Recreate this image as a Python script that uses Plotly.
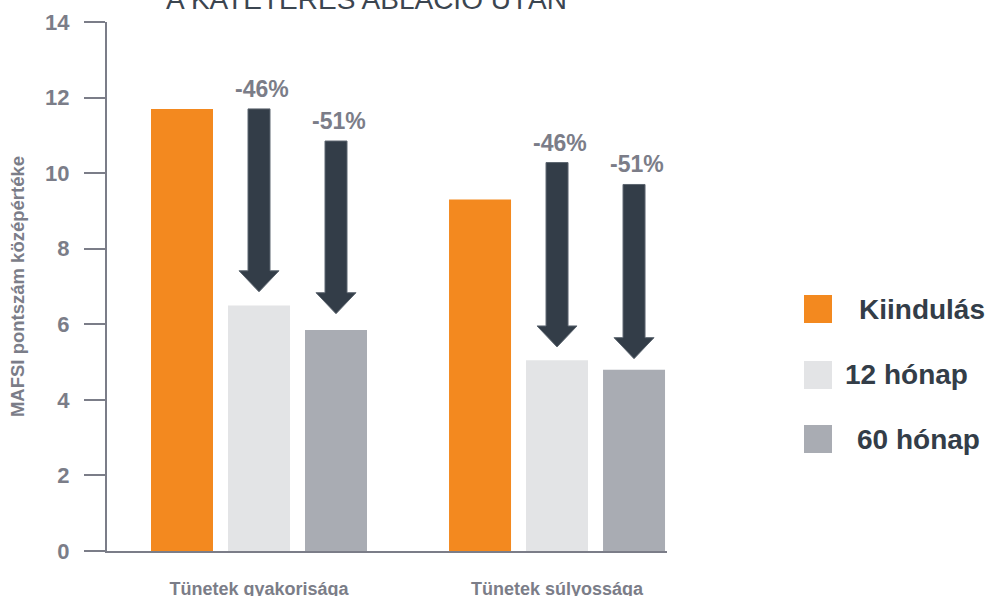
import plotly.graph_objects as go

# MAFSI scores by symptom dimension and follow-up time
categories = ["Tünetek gyakorisága", "Tünetek súlyossága"]
series_names = ["Kiindulás", "12 hónap", "60 hónap"]
baseline = [11.7, 9.3]
month_12 = [6.5, 5.05]
month_60 = [5.85, 4.8]

# Reduction arrows (drawn over the 12- and 60-month bars)
arrow_labels = ["-46%", "-51%", "-46%", "-51%"]
arrow_top = [11.7, 10.85, 10.28, 9.7]
arrow_tip = [6.86, 6.28, 5.4, 5.09]

y_ticks = [0, 2, 4, 6, 8, 10, 12, 14]
y_title = "MAFSI pontszám középértéke"
title_text = "A KATÉTERES ABLÁCIÓ UTÁN"

colors = ["#f3891f", "#e3e4e6", "#a9acb3"]
axis_grey = "#7b7d88"
dark = "#333d48"

W, H = 987, 596
ML, MR, MT, MB = 107, 320, 22, 45
plot_w = W - ML - MR
plot_h = H - MT - MB

x_min, x_max = -0.51, 1.369
y_min, y_max = 0, 14
px_x = plot_w / (x_max - x_min)
px_y = plot_h / (y_max - y_min)

bar_w = 62 / px_x
pitch = 77 / px_x
offsets = [-pitch, 0.0, pitch]
group_x = list(range(len(categories)))

fig = go.Figure()
for name, vals, col, off in zip(series_names, [baseline, month_12, month_60], colors, offsets):
    fig.add_trace(go.Bar(
        x=group_x, y=vals, name=name, width=bar_w,
        offset=off - bar_w / 2, marker=dict(color=col, line=dict(width=0)),
        showlegend=False, hoverinfo="skip"))

# Arrow geometry
shaft_half = 11 / px_x
head_half = 20 / px_x
head_h = 21 / px_y
arrow_x = []
for g in group_x:
    arrow_x += [g + offsets[1], g + offsets[2]]

shapes = []
annotations = []
for xc, top, tip, lab in zip(arrow_x, arrow_top, arrow_tip, arrow_labels):
    hb = tip + head_h
    path = (f"M {xc - shaft_half},{top} L {xc + shaft_half},{top} "
            f"L {xc + shaft_half},{hb} L {xc + head_half},{hb} L {xc},{tip} "
            f"L {xc - head_half},{hb} L {xc - shaft_half},{hb} Z")
    shapes.append(dict(type="path", path=path, xref="x", yref="y",
                       fillcolor=dark, line=dict(color="#5d6670", width=1)))
    annotations.append(dict(x=xc + 3 / px_x, y=top, xref="x", yref="y", text=f"<b>{lab}</b>",
                            showarrow=False, yanchor="bottom", yshift=5,
                            font=dict(family="Liberation Sans, Arial", size=23, color=axis_grey)))

# Legend drawn as squares and labels
leg_y = [309, 375, 439]
leg_text_x = [857, 843, 855]
for col, name, yc, tx in zip(colors, series_names, leg_y, leg_text_x):
    shapes.append(dict(type="rect", xref="paper", yref="paper",
                       x0=(804 - ML) / plot_w, x1=(832 - ML) / plot_w,
                       y0=(H - MB - (yc + 14)) / plot_h, y1=(H - MB - (yc - 14)) / plot_h,
                       fillcolor=col, line=dict(width=0)))
    annotations.append(dict(x=(tx - ML) / plot_w, y=(H - MB - yc) / plot_h,
                            xref="paper", yref="paper", xanchor="left", yanchor="middle",
                            text=f"<b>{name}</b>", showarrow=False,
                            font=dict(family="Liberation Sans, Arial", size=28, color=dark)))

# Title (runs off the top edge)
annotations.append(dict(x=(366 - ML) / plot_w, y=1, xref="paper", yref="paper",
                        xanchor="center", yanchor="bottom", yshift=5,
                        text=title_text, showarrow=False,
                        font=dict(family="Liberation Sans, Arial", size=28, color="#3b4550")))

fig.update_layout(
    width=W, height=H,
    margin=dict(l=ML, r=MR, t=MT, b=MB, pad=0, autoexpand=False),
    paper_bgcolor="white", plot_bgcolor="white",
    barmode="overlay",
    shapes=shapes, annotations=annotations,
    xaxis=dict(range=[x_min, x_max], tickvals=group_x, ticktext=[f"<b>{c}</b>" for c in categories],
               showgrid=False, zeroline=False, showline=True, linecolor=axis_grey, linewidth=2,
               ticks="", ticklabelstandoff=20, automargin=False,
               tickfont=dict(family="Liberation Sans Narrow, Liberation Sans", size=18, color=axis_grey)),
    yaxis=dict(range=[y_min, y_max], tickvals=y_ticks, showgrid=False, zeroline=False,
               showline=True, linecolor=axis_grey, linewidth=2, automargin=False,
               ticks="outside", ticklen=21, tickwidth=2, tickcolor=axis_grey,
               ticklabelstandoff=10,
               tickfont=dict(family="Liberation Sans, Arial", size=22, color=axis_grey, weight="bold"),
               title=dict(text=f"<b>{y_title}</b>", standoff=16,
                          font=dict(family="Liberation Sans, Arial", size=18.5, color=axis_grey))),
    font=dict(family="Liberation Sans, Arial"),
)

fig.write_html("out.html")
